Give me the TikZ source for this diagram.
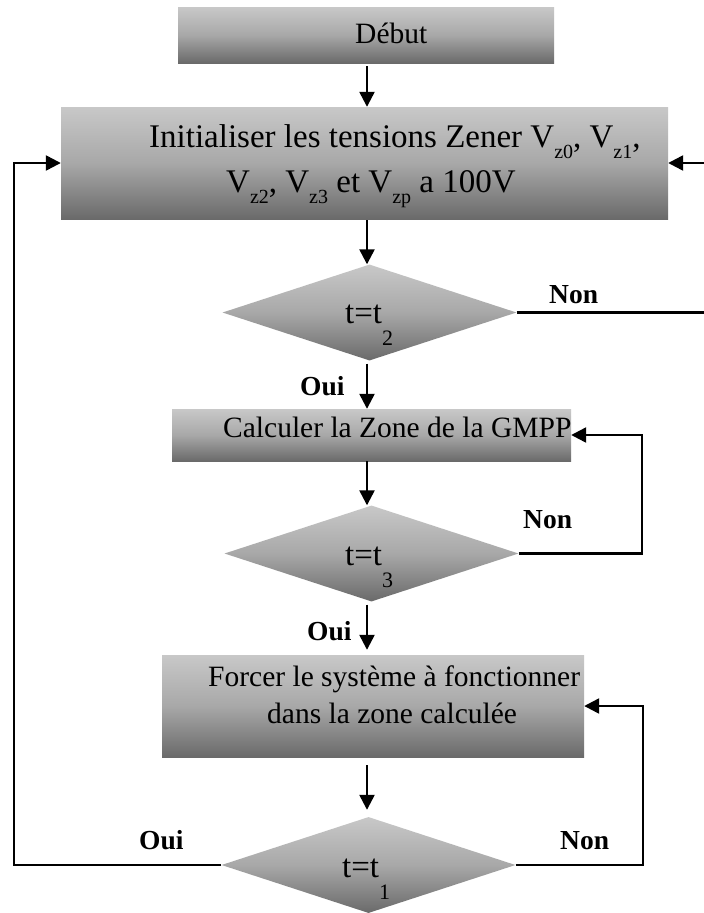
\documentclass[tikz,border=0pt]{standalone}
\usepackage{fontspec}
\setmainfont{Liberation Serif}
\usetikzlibrary{arrows.meta,shapes.geometric}

% lowered subscripts as set in the flowchart
\newcommand{\sbI}[1]{\raisebox{-11pt}{\fontsize{20}{20}\selectfont #1}}
\newcommand{\sbD}[1]{\raisebox{-22pt}{\fontsize{22}{22}\selectfont #1}}

\definecolor{shTop}{RGB}{200,200,200}
\definecolor{shMid}{RGB}{168,168,168}
\definecolor{shBot}{RGB}{106,106,106}

\tikzset{
  grad/.style={top color=shTop, bottom color=shBot, middle color=shMid, draw=none, inner sep=0pt},
  procbox/.style={grad, rectangle, minimum width=#1},
  decision/.style={grad, diamond, minimum width=294pt, minimum height=96pt},
  txt/.style={anchor=base west, inner sep=0pt, font=\fontsize{29.5}{35}\selectfont},
  bigtxt/.style={anchor=base west, inner sep=0pt, font=\fontsize{33}{40}\selectfont},
  lbl/.style={anchor=base west, inner sep=0pt, font=\fontsize{27.5}{33}\selectfont\bfseries},
  conn/.style={line width=2.4pt, line cap=butt},
  arr/.style={conn, -{Triangle[length=15pt,width=15pt]}}
}

\begin{document}
\begin{tikzpicture}[x=1pt,y=-1pt]
  \fill[white] (0,0) rectangle (704,913);
  \useasboundingbox (0,0) rectangle (704,913);

  % boxes and decisions
  \node[procbox=376pt, minimum height=56pt]  (debut) at (366,35) {};
  \node[procbox=607pt, minimum height=112pt] (init)  at (364.5,163) {};
  \node[decision] (t2) at (369.5,312.5) {};
  \node[procbox=399pt, minimum height=52pt]  (calc)  at (371.5,435) {};
  \node[decision] (t3) at (371.5,553.5) {};
  \node[procbox=422pt, minimum height=102pt] (force) at (373,706) {};
  \node[decision] (t1) at (368.5,865) {};

  % texts
  \node[txt] (tdebut) at (355,43) {Début};
  \node[bigtxt] (tinit1) at (149,147) {Initialiser les tensions Zener V\sbI{z0}, V\sbI{z1},};
  \node[bigtxt] (tinit2) at (226,192) {V\sbI{z2}, V\sbI{z3} et V\sbI{zp} a 100V};
  \node[bigtxt] (tt2) at (345,323) {t=t\sbD{2}};
  \node[txt] (tcalc) at (223,437) {Calculer la Zone de la GMPP};
  \node[bigtxt] (tt3) at (345,565) {t=t\sbD{3}};
  \node[txt] (tforce1) at (208,686) {Forcer le système à fonctionner};
  \node[txt] (tforce2) at (267,723) {dans la zone calculée};
  \node[bigtxt] (tt1) at (342,877) {t=t\sbD{1}};

  % branch labels
  \node[lbl] (non2) at (549,303) {Non};
  \node[lbl] (oui2) at (300,395) {Oui};
  \node[lbl] (non3) at (523,528) {Non};
  \node[lbl] (oui3) at (307,640) {Oui};
  \node[lbl] (oui1) at (139,849) {Oui};
  \node[lbl] (non1) at (560,849) {Non};

  % guide lines for the connectors
  \coordinate (axis) at (367,0);
  \coordinate (rOut) at (714,0);
  \coordinate (rCalc) at (642,0);
  \coordinate (rForce) at (643,0);
  \coordinate (lBack) at (14,0);

  % main flow
  \draw[arr, shorten <=3pt] (debut.south -| axis) -- (init.north -| axis);
  \draw[arr, shorten <=1pt] (init.south -| axis) -- (t2.north -| axis);
  \draw[arr, shorten <=3pt] (t2.south -| axis) -- (calc.north -| axis);
  \draw[arr] (calc.south -| axis) -- (t3.north -| axis);
  \draw[arr, shorten <=3pt, shorten >=5pt] (t3.south -| axis) -- (force.north -| axis);
  \draw[arr, shorten <=8pt, shorten >=7pt] (force.south -| axis) -- (t1.north -| axis);

  % loops
  \draw[arr] (t2.east) -- (t2.east -| rOut) -- (init.east -| rOut) -- (init.east);
  \draw[arr] (t3.east) -- (t3.east -| rCalc) -- (calc.east -| rCalc) -- (calc.east);
  \draw[arr] (t1.east) -- (t1.east -| rForce) -- (force.east -| rForce) -- (force.east);
  \draw[arr] (t1.west) -- (t1.west -| lBack) -- (init.west -| lBack) -- (init.west);
\end{tikzpicture}
\end{document}
